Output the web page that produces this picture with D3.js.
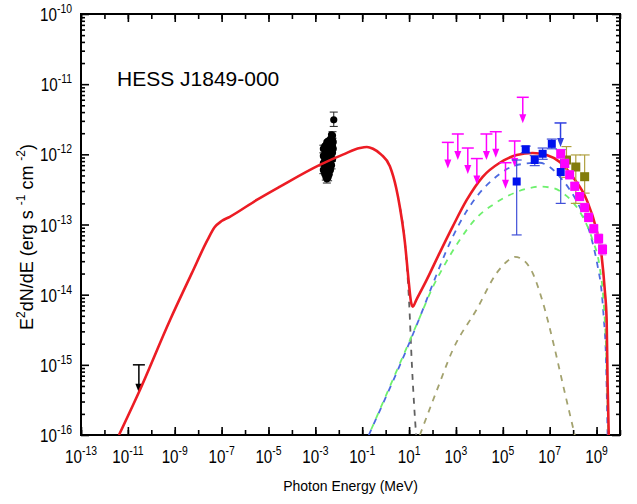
<!DOCTYPE html>
<html>
<head>
<meta charset="utf-8">
<script src="https://cdn.jsdelivr.net/npm/d3@7"></script>
<style>
body { margin: 0; background: #fff; }
svg text { font-family: "Liberation Sans", Arial, sans-serif; fill: #000; }
</style>
</head>
<body>
<div id="vis"></div>
<script>
// model curves, as [log10 E (MeV), log10 E^2dN/dE]
const totalModel = [[-11.38,-16],[-10.53,-15.39],[-9.2,-14.36],[-8.28,-13.7],[-7.6,-13.22],[-7.3,-13.04],[-7.0,-12.95],
    [-6.65,-12.89],[-5.5,-12.65],[-4.51,-12.46],[-2.81,-12.15],[-1.8,-12.0],[-1.1,-11.91],[-0.8,-11.895],[-0.54,-11.92],
    [-0.2,-12.0],[0.18,-12.17],[0.45,-12.48],[0.6,-12.74],[0.82,-13.25],[0.98,-13.8],[1.08,-14.1],[1.16,-14.17],
    [1.3,-14.08],[1.75,-13.79],[2.31,-13.4],[2.86,-13.03],[3.46,-12.65],[4.14,-12.32],[4.87,-12.12],[5.59,-12.01],
    [6.27,-11.98],[6.87,-12.01],[7.43,-12.11],[7.98,-12.32],[8.58,-12.65],[9.0,-13.08],[9.22,-13.46],[9.35,-13.93],
    [9.43,-14.36],[9.47,-15.26],[9.52,-16]];
const grayModel = [[0.6,-12.74],[0.82,-13.25],[1.0,-14.1],[1.12,-15.0],[1.22,-15.6],[1.3,-16]];
const blueModel = [[-0.72,-16],[1.46,-14.32],[2.01,-13.85],[2.61,-13.36],[3.16,-12.98],[3.89,-12.6],[4.57,-12.36],
    [5.29,-12.19],[6.02,-12.13],[6.57,-12.12],[7.0,-12.18],[7.43,-12.32],[7.85,-12.5],[8.28,-12.75],[8.58,-12.98],
    [8.83,-13.26],[9.05,-13.6],[9.22,-13.97],[9.3,-14.3],[9.4,-14.9],[9.47,-16]];
const greenModel = [[-0.72,-16],[1.46,-14.32],[2.0,-13.9],[2.44,-13.62],[3.16,-13.22],[3.89,-12.9],[4.57,-12.72],
    [5.29,-12.58],[6.02,-12.49],[6.57,-12.46],[7.13,-12.48],[7.55,-12.55],[7.98,-12.68],[8.41,-12.89],[8.83,-13.22],
    [9.13,-13.6],[9.3,-14.1],[9.42,-14.9],[9.5,-16]];
const oliveModel = [[1.46,-16],[2.2,-15.35],[2.86,-14.79],[3.9,-14.2],[4.74,-13.69],[5.2,-13.52],[5.51,-13.46],
    [5.85,-13.5],[6.27,-13.69],[6.7,-14.1],[7.2,-14.75],[7.55,-15.26],[8.07,-16]];

// X-ray points [E (MeV), E^2dN/dE]
const xrayPts = [
    [2.2e-3,6.0e-13],[2.2e-3,7.5e-13],[2.2e-3,9.5e-13],[2.2e-3,1.2e-12],
    [2.5e-3,5.3e-13],[2.5e-3,6.6e-13],[2.5e-3,8.2e-13],[2.5e-3,1.0e-12],[2.5e-3,1.3e-12],
    [2.8e-3,4.8e-13],[2.8e-3,5.9e-13],[2.8e-3,7.3e-13],[2.8e-3,9.0e-13],[2.8e-3,1.1e-12],[2.8e-3,1.35e-12],
    [3.1e-3,4.5e-13],[3.1e-3,5.5e-13],[3.1e-3,6.8e-13],[3.1e-3,8.4e-13],[3.1e-3,1.05e-12],[3.1e-3,1.3e-12],[3.1e-3,1.5e-12],
    [3.5e-3,4.7e-13],[3.5e-3,5.8e-13],[3.5e-3,7.1e-13],[3.5e-3,8.8e-13],[3.5e-3,1.1e-12],[3.5e-3,1.35e-12],[3.5e-3,1.55e-12],
    [3.9e-3,5.2e-13],[3.9e-3,6.4e-13],[3.9e-3,7.8e-13],[3.9e-3,9.6e-13],[3.9e-3,1.2e-12],[3.9e-3,1.45e-12],
    [4.4e-3,6.0e-13],[4.4e-3,7.4e-13],[4.4e-3,9.0e-13],[4.4e-3,1.1e-12],[4.4e-3,1.35e-12],[4.4e-3,1.65e-12],
    [4.9e-3,7.0e-13],[4.9e-3,8.6e-13],[4.9e-3,1.05e-12],[4.9e-3,1.3e-12],[4.9e-3,1.6e-12],[4.9e-3,1.9e-12],
    [5.4e-3,8.5e-13],[5.4e-3,1.05e-12],[5.4e-3,1.3e-12],[5.4e-3,1.6e-12],[5.4e-3,1.85e-12],
    [5.8e-3,1.2e-12],[5.8e-3,1.5e-12],[6.1e-3,3.1e-12]];
// [E, low, high]
const xrayErr = [[6.1e-3,2.5e-12,4.0e-12],[5.4e-3,1.7e-12,2.1e-12],[3.1e-3,3.9e-13,5.2e-13],[2.8e-3,4.3e-13,5.4e-13],
    [3.5e-3,4.2e-13,5.3e-13],[2.2e-3,5.3e-13,6.8e-13],[2.2e-3,1.05e-12,1.35e-12],[4.9e-3,6.2e-13,7.9e-13]];
const xrayUL = [[2.95e-11,1.0e-15]];

const ulE = [4.5e2,1.2e3,3.2e3,7.8e3,2.0e4,5.0e4,1.3e5,3.2e5,7.1e5];
const ulF = [1.48e-12,1.95e-12,1.23e-12,8.7e-13,1.95e-12,2.1e-12,7.6e-13,1.55e-12,6.5e-12];

const fermiE  = [3.9e5,9.5e5,2.3e6,5.0e6,1.23e7,2.95e7];
const fermiF  = [4.1e-13,1.18e-12,8.3e-13,1.02e-12,1.41e-12,5.6e-13];
const fermiLo = [7.1e-14,1.05e-12,6.9e-13,8.5e-13,1.2e-12,2.0e-13];
const fermiHi = [8.3e-13,1.31e-12,9.6e-13,1.23e-12,1.65e-12,1.17e-12];
const fermiUL = [[2.9e7,2.8e-12]];

const oliveE  = [5.2e7,1.3e8,3.1e8];
const oliveF  = [8.3e-13,6.6e-13,4.8e-13];
const oliveLo = [4.7e-13,2.0e-13,2.8e-13];
const oliveHi = [1.29e-12,9.8e-13,9.8e-13];

const hessE  = [2.95e7,4.4e7,7.1e7,1.17e8,1.9e8,3.1e8,4.6e8,7.6e8,1.23e9,1.8e9];
const hessF  = [1.02e-12,7.4e-13,5.1e-13,3.5e-13,2.5e-13,1.74e-13,1.26e-13,8.7e-14,6.3e-14,4.4e-14];
const hessLo = [8.8e-13,6.5e-13,4.5e-13,3.1e-13,2.2e-13,1.53e-13,1.1e-13,7.6e-14,5.4e-14,3.7e-14];
const hessHi = [1.17e-12,8.5e-13,5.8e-13,4.0e-13,2.85e-13,2.0e-13,1.45e-13,1.0e-13,7.3e-14,5.2e-14];

const xTickExps = [-13,-11,-9,-7,-5,-3,-1,1,3,5,7,9];
const yTickExps = [-16,-15,-14,-13,-12,-11,-10];

const W = 637, H = 504;
const margin = { top: 14, right: 17, bottom: 69, left: 81 };

const svg = d3.select("#vis").append("svg")
    .attr("width", W).attr("height", H);

const x = d3.scaleLog().domain([1e-13, 1e10]).range([margin.left, W - margin.right]);
const y = d3.scaleLog().domain([1e-16, 1e-10]).range([H - margin.bottom, margin.top]);

svg.append("clipPath").attr("id", "plot")
    .append("rect").attr("x", x.range()[0]).attr("y", y.range()[1])
    .attr("width", x.range()[1] - x.range()[0]).attr("height", y.range()[0] - y.range()[1]);

// axes, ticks pointing inward
const allDecX = d3.range(-13, 11).map(e => 10 ** e);
const decY = d3.range(-16, -9).map(e => 10 ** e);
const minorY = [];
d3.range(-16, -10).forEach(e => { for (let k = 2; k < 10; k++) minorY.push(k * 10 ** e); });

function axisStyle(g) {
    g.select(".domain").remove();
    g.selectAll("text").remove();
    g.selectAll("line").attr("stroke", "#000").attr("stroke-width", 1.6);
}
const yb = y.range()[0], yt = y.range()[1], xl = x.range()[0], xr = x.range()[1];
svg.append("g").attr("transform", `translate(0,${yb})`)
    .call(d3.axisBottom(x).tickValues(allDecX).tickSize(-5)).call(axisStyle);
svg.append("g").attr("transform", `translate(0,${yb})`)
    .call(d3.axisBottom(x).tickValues(xTickExps.map(e => 10 ** e)).tickSize(-8)).call(axisStyle);
svg.append("g").attr("transform", `translate(0,${yt})`)
    .call(d3.axisTop(x).tickValues(allDecX).tickSize(-5)).call(axisStyle);
svg.append("g").attr("transform", `translate(0,${yt})`)
    .call(d3.axisTop(x).tickValues(xTickExps.map(e => 10 ** e)).tickSize(-8)).call(axisStyle);
svg.append("g").attr("transform", `translate(${xl},0)`)
    .call(d3.axisLeft(y).tickValues(minorY).tickSize(-4)).call(axisStyle);
svg.append("g").attr("transform", `translate(${xl},0)`)
    .call(d3.axisLeft(y).tickValues(decY).tickSize(-8)).call(axisStyle);
svg.append("g").attr("transform", `translate(${xr},0)`)
    .call(d3.axisRight(y).tickValues(minorY).tickSize(-4)).call(axisStyle);
svg.append("g").attr("transform", `translate(${xr},0)`)
    .call(d3.axisRight(y).tickValues(decY).tickSize(-8)).call(axisStyle);

svg.append("rect").attr("x", xl).attr("y", yt).attr("width", xr - xl).attr("height", yb - yt)
    .attr("fill", "none").attr("stroke", "#000").attr("stroke-width", 2);

// tick labels (narrow face)
xTickExps.forEach(e => {
    const t = svg.append("text")
        .attr("transform", `translate(${x(10 ** e)},${yb + 28}) scale(0.8,1)`)
        .attr("text-anchor", "middle").style("font-size", "19px");
    t.append("tspan").text("10");
    t.append("tspan").attr("dy", -8).style("font-size", "13px").text(e);
});
yTickExps.forEach(e => {
    const t = svg.append("text")
        .attr("transform", `translate(72,${y(10 ** e) + 7}) scale(0.8,1)`)
        .attr("text-anchor", "end").style("font-size", "19px");
    t.append("tspan").text("10");
    t.append("tspan").attr("dy", -8).style("font-size", "13px").text(e);
});

svg.append("text").attr("x", (xl + xr) / 2).attr("y", 491)
    .attr("text-anchor", "middle").style("font-size", "14px").text("Photon Energy (MeV)");

const yt2 = svg.append("text").attr("transform", "translate(33,237) rotate(-90)")
    .attr("text-anchor", "middle").style("font-size", "18px");
yt2.append("tspan").text("E");
yt2.append("tspan").attr("dy", -8).style("font-size", "12px").text("2");
yt2.append("tspan").attr("dy", 8).text("dN/dE (erg s ");
yt2.append("tspan").attr("dy", -8).style("font-size", "12px").text("-1");
yt2.append("tspan").attr("dy", 8).text(" cm ");
yt2.append("tspan").attr("dy", -8).style("font-size", "12px").text("-2");
yt2.append("tspan").attr("dy", 8).text(")");

svg.append("text").attr("x", 117).attr("y", 86).style("font-size", "21px").text("HESS J1849-000");

const plot = svg.append("g").attr("clip-path", "url(#plot)");

// error bar helper
function errBar(g, E, lo, hi, color, cap, w) {
    g.append("line").attr("x1", x(E)).attr("x2", x(E)).attr("y1", y(lo)).attr("y2", y(hi))
        .attr("stroke", color).attr("stroke-width", w);
    [lo, hi].forEach(v => g.append("line").attr("x1", x(E) - cap).attr("x2", x(E) + cap)
        .attr("y1", y(v)).attr("y2", y(v)).attr("stroke", color).attr("stroke-width", w));
}
function upperLimit(g, E, F, color, len) {
    const cx = x(E), cy = y(F);
    g.append("line").attr("x1", cx - 6).attr("x2", cx + 6).attr("y1", cy).attr("y2", cy)
        .attr("stroke", color).attr("stroke-width", 1.5);
    g.append("line").attr("x1", cx).attr("x2", cx).attr("y1", cy).attr("y2", cy + len - 6)
        .attr("stroke", color).attr("stroke-width", 1.5);
    g.append("path").attr("d", `M${cx - 3.5},${cy + len - 9}L${cx + 3.5},${cy + len - 9}L${cx},${cy + len}Z`)
        .attr("fill", color);
}

// X-ray data
const gx = plot.append("g");
xrayErr.forEach(d => errBar(gx, d[0], d[1], d[2], "#222", 4, 1));
gx.selectAll("circle").data(xrayPts).enter().append("circle")
    .attr("cx", d => x(d[0])).attr("cy", d => y(d[1])).attr("r", 3.6).attr("fill", "#000");
xrayUL.forEach(d => upperLimit(gx, d[0], d[1], "#000", 28));

// model curves
const line = d3.line().curve(d3.curveMonotoneX)
    .x(d => x(10 ** d[0])).y(d => y(10 ** d[1]));
const dashed = [
    [oliveModel, "#a3a26e", 0],
    [grayModel, "#606060", 0],
    [blueModel, "#4d6ae0", 0],
    [greenModel, "#6ef06e", 6]
];
dashed.forEach(([data, color, off]) => {
    plot.append("path").datum(data).attr("d", line)
        .attr("fill", "none").attr("stroke", color).attr("stroke-width", 1.8)
        .attr("stroke-dasharray", "6,6").attr("stroke-dashoffset", off);
});
plot.append("path").datum(totalModel).attr("d", line)
    .attr("fill", "none").attr("stroke", "#ec1c24").attr("stroke-width", 2.6);

// upper limits (magenta)
const gu = plot.append("g");
ulE.forEach((E, i) => upperLimit(gu, E, ulF[i], "#ff00ff", 26));

// Fermi points
const gf = plot.append("g");
fermiE.forEach((E, i) => errBar(gf, E, fermiLo[i], fermiHi[i], "#4050d8", 5, 1.2));
fermiUL.forEach(d => upperLimit(gf, d[0], d[1], "#3040e0", 24));
gf.selectAll("rect").data(fermiE).enter().append("rect")
    .attr("x", d => x(d) - 4).attr("y", (d, i) => y(fermiF[i]) - 4)
    .attr("width", 8).attr("height", 8).attr("fill", "#0010ee");

// olive points
const go = plot.append("g");
oliveE.forEach((E, i) => errBar(go, E, oliveLo[i], oliveHi[i], "#b0a040", 5, 1.2));
go.selectAll("rect").data(oliveE).enter().append("rect")
    .attr("x", d => x(d) - 4.5).attr("y", (d, i) => y(oliveF[i]) - 4.5)
    .attr("width", 9).attr("height", 9).attr("fill", "#827c0c");

// HESS points
const gh = plot.append("g");
hessE.forEach((E, i) => errBar(gh, E, hessLo[i], hessHi[i], "#f060f0", 4, 1.2));
gh.selectAll("rect").data(hessE).enter().append("rect")
    .attr("x", d => x(d) - 4.5).attr("y", (d, i) => y(hessF[i]) - 4.5)
    .attr("width", 9).attr("height", 9).attr("fill", "#ff00ff");
</script>
</body>
</html>
